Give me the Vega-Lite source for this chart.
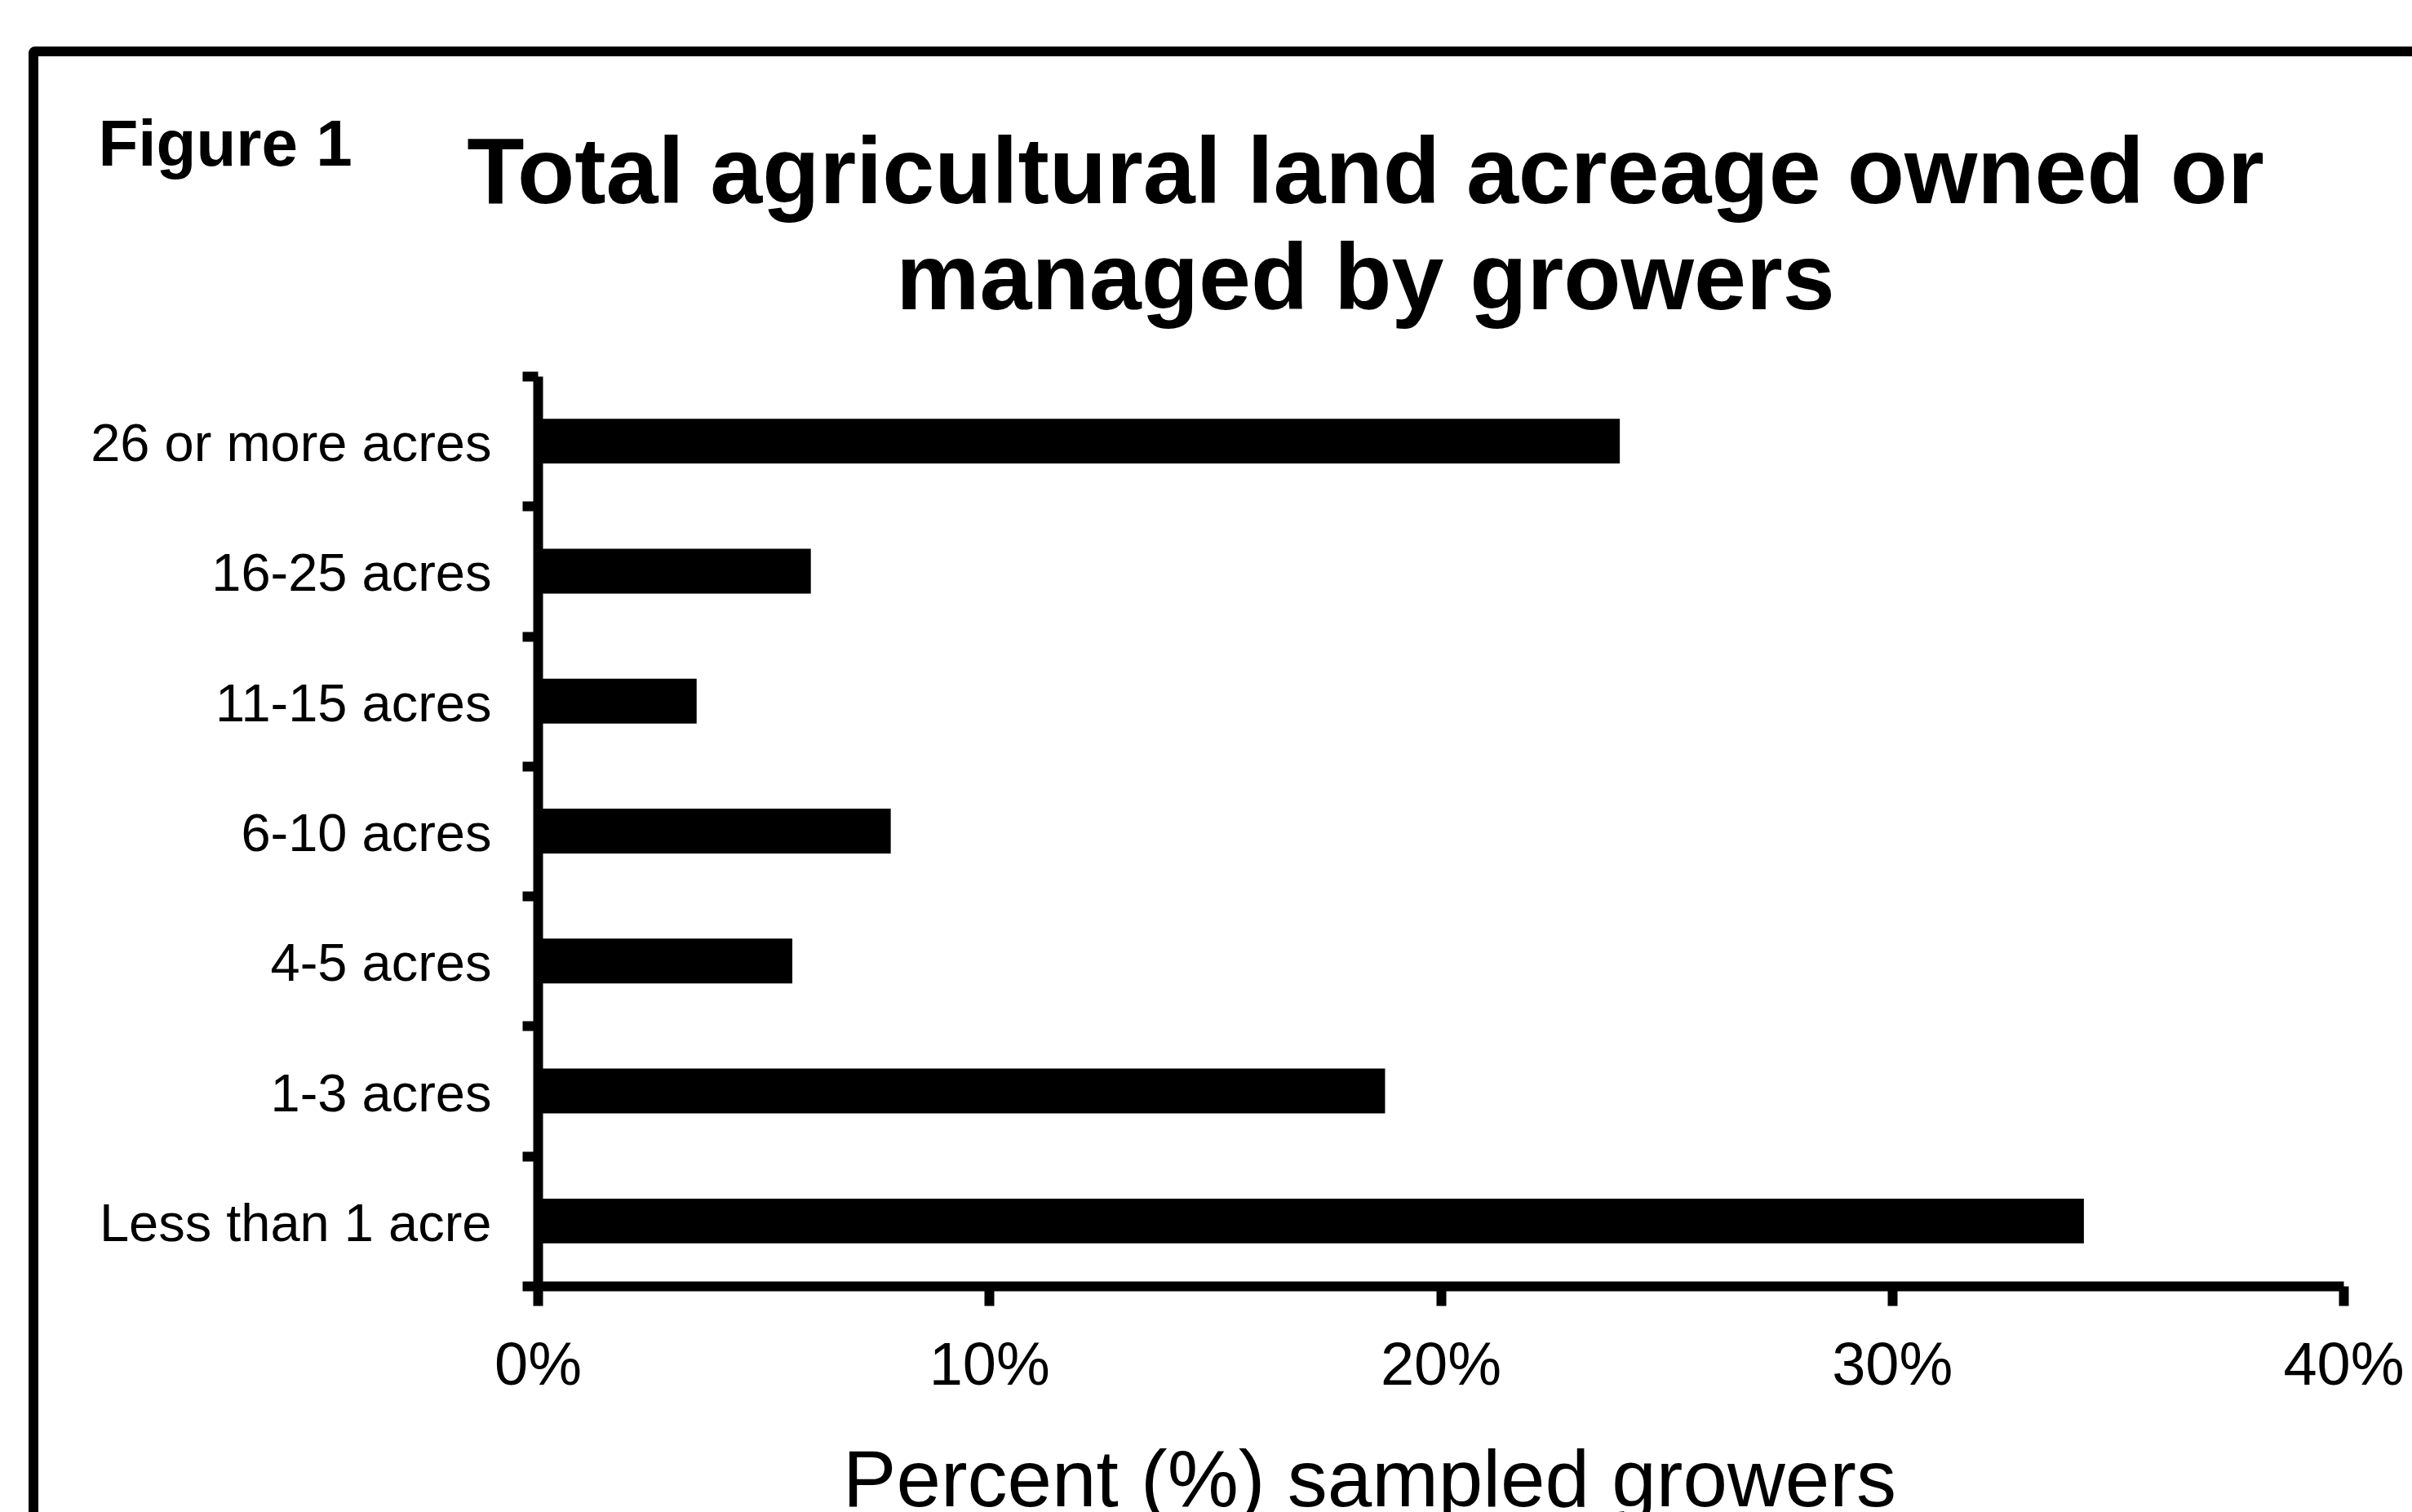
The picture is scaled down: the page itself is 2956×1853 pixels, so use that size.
{
  "$schema": "https://vega.github.io/schema/vega-lite/v6.json",
  "autosize": {"type": "none"},
  "padding": {"left": 41, "top": 63, "right": -6, "bottom": -6},
  "width": 2921,
  "height": 1796,
  "background": "white",
  "config": {
    "font": "Liberation Sans",
    "view": {"stroke": "black", "strokeWidth": 12, "cornerRadius": 2},
    "axis": {"grid": false, "domainColor": "black", "tickColor": "black", "labelColor": "black", "titleColor": "black", "domainWidth": 12, "tickWidth": 12, "labelFont": "Liberation Sans", "titleFont": "Liberation Sans"}
  },
  "title": {
    "text": ["Total agricultural land acreage owned or", "managed by growers"],
    "font": "Liberation Sans",
    "fontSize": 115,
    "fontWeight": "bold",
    "color": "black",
    "anchor": "middle",
    "align": "center",
    "frame": "group",
    "baseline": "alphabetic",
    "lineHeight": 130,
    "offset": -463,
    "dx": 172
  },
  "data": {
    "values": [
      {"size": "26 or more acres", "pct": 23.97},
      {"size": "16-25 acres", "pct": 6.05},
      {"size": "11-15 acres", "pct": 3.52},
      {"size": "6-10 acres", "pct": 7.82},
      {"size": "4-5 acres", "pct": 5.64},
      {"size": "1-3 acres", "pct": 18.77},
      {"size": "Less than 1 acre", "pct": 34.25}
    ]
  },
  "mark": {"type": "bar", "color": "black", "height": {"band": 0.345}},
  "encoding": {
    "y": {
      "field": "size",
      "type": "nominal",
      "sort": null,
      "scale": {"range": [398, 1513], "paddingInner": 0, "paddingOuter": 0},
      "axis": {
        "orient": "left",
        "offset": -618,
        "tickBand": "extent",
        "tickSize": 19,
        "labelFontSize": 65,
        "labelPadding": 38,
        "labelLimit": 2000,
        "labelOffset": 4,
        "title": "Figure 1",
        "titleFontSize": 80,
        "titleFontWeight": "bold",
        "titleAngle": 0,
        "titleAlign": "left",
        "titleBaseline": "alphabetic",
        "titleX": -539,
        "titleY": 139
      }
    },
    "x": {
      "field": "pct",
      "type": "quantitative",
      "scale": {"domain": [0, 40], "range": [618, 2831], "nice": false},
      "axis": {
        "orient": "bottom",
        "offset": -283,
        "values": [0, 10, 20, 30, 40],
        "labelExpr": "datum.value + '%'",
        "tickSize": 24,
        "labelFontSize": 74,
        "labelPadding": 38,
        "labelFlush": false,
        "labelOverlap": false,
        "title": "Percent (%) sampled growers",
        "titleFontSize": 98,
        "titleFontWeight": "normal",
        "titleAlign": "center",
        "titleBaseline": "alphabetic",
        "titleX": 1637,
        "titleY": 269
      }
    }
  }
}
